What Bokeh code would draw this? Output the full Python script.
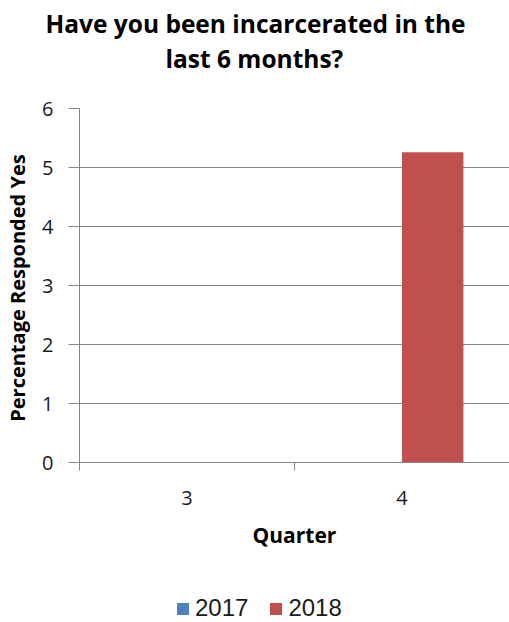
from bokeh.plotting import figure
from bokeh.layouts import column
from bokeh.models import (ColumnDataSource, Range1d, FixedTicker, Legend, LegendItem,
                          Title, SingleIntervalTicker)
from bokeh.embed import file_html
from bokeh.resources import INLINE

# ---- data ----
quarters = ["3", "4"]
series = ["2017", "2018"]
values_2017 = [0, 0]
values_2018 = [0, 5.26]
colors = ["#4F81BD", "#C0504D"]
title_lines = ["Have you been incarcerated in the", "last 6 months?"]
y_label = "Percentage Responded  Yes"
x_label = "Quarter"

FONT = "Open Sans"
GRID = "#868686"

p = figure(frame_width=430, frame_height=354, output_backend="svg", toolbar_location=None,
           x_range=Range1d(0, len(quarters)), y_range=Range1d(0, 6),
           min_border_left=79, min_border_right=0, min_border_top=108, min_border_bottom=100)
p.outline_line_color = None
p.background_fill_color = "white"
p.border_fill_color = "white"

centers = [i + 0.5 for i in range(len(quarters))]
bw = 1 / 3.5
src = ColumnDataSource(dict(
    x17=[c - bw / 2 for c in centers],
    x18=[c + bw / 2 for c in centers],
    v17=values_2017, v18=values_2018))

r17 = p.vbar(x="x17", top="v17", width=bw, source=src, fill_color=colors[0], line_color=None)
r18 = p.vbar(x="x18", top="v18", width=bw, source=src, fill_color=colors[1], line_color=None)

# grid
p.xgrid.visible = False
p.ygrid.grid_line_color = GRID
p.ygrid.grid_line_width = 1
p.ygrid.ticker = SingleIntervalTicker(interval=1)

# y axis
ya = p.yaxis[0]
ya.ticker = SingleIntervalTicker(interval=1)
ya.axis_line_color = GRID
ya.major_tick_line_color = GRID
ya.major_tick_out = 11
ya.major_tick_in = 0
ya.minor_tick_line_color = None
ya.major_label_text_font = FONT
ya.major_label_text_font_size = "20px"
ya.major_label_text_color = "#1a1a1a"
ya.major_label_standoff = 15
ya.axis_label = y_label
ya.axis_label_text_font = FONT
ya.axis_label_text_font_style = "bold"
ya.axis_label_text_font_size = "20px"
ya.axis_label_text_color = "#000000"
ya.axis_label_standoff = 8

# x axis
xa = p.xaxis[0]
xa.ticker = FixedTicker(ticks=centers, minor_ticks=list(range(len(quarters) + 1)))
xa.major_label_overrides = {c: q for c, q in zip(centers, quarters)}
xa.axis_line_color = GRID
xa.major_tick_line_color = None
xa.major_tick_out = 0
xa.major_tick_in = 0
xa.minor_tick_line_color = GRID
xa.minor_tick_out = 8
xa.minor_tick_in = 0
xa.major_label_text_font = FONT
xa.major_label_text_font_size = "20px"
xa.major_label_text_color = "#1a1a1a"
xa.major_label_standoff = 20
xa.axis_label = x_label
xa.axis_label_text_font = FONT
xa.axis_label_text_font_style = "bold"
xa.axis_label_text_font_size = "21px"
xa.axis_label_text_color = "#000000"
xa.axis_label_standoff = 13

# title: second line nearest the plot, first line above it
p.add_layout(Title(text=title_lines[1], align="left", offset=86, standoff=0,
                   padding=dict(left=0, right=0, top=0, bottom=34),
                   text_font=FONT, text_font_style="bold", text_font_size="24.5px",
                   text_color="#000000"), "above")
p.add_layout(Title(text=title_lines[0], align="left", offset=-34, standoff=0,
                   text_font=FONT, text_font_style="bold", text_font_size="24.5px",
                   text_color="#000000"), "above")

# legend strip below the chart (same bars, kept out of its view; only the key shows)
lg = figure(width=509, height=60, output_backend="svg", toolbar_location=None,
            x_axis_type=None, y_axis_type=None,
            x_range=Range1d(100, 101), y_range=Range1d(100, 101),
            min_border_left=0, min_border_right=0, min_border_top=0, min_border_bottom=0)
lg.outline_line_color = None
lg.xgrid.visible = False
lg.ygrid.visible = False
sw17 = lg.vbar(x="x17", top="v17", width=bw, source=src, fill_color=colors[0], line_color=None)
sw18 = lg.vbar(x="x18", top="v18", width=bw, source=src, fill_color=colors[1], line_color=None)
legend = Legend(items=[LegendItem(label=series[0], renderers=[sw17]),
                       LegendItem(label=series[1], renderers=[sw18])],
                orientation="horizontal", border_line_color=None,
                background_fill_alpha=0,
                label_text_font="Liberation Sans", label_text_font_size="24px",
                label_text_color="#1a1a1a",
                glyph_width=15, glyph_height=15, label_standoff=5, spacing=20,
                padding=0, margin=0, location=(96, 0))
lg.add_layout(legend)

open("out.html", "w").write(file_html(column(p, lg, spacing=0), INLINE))
